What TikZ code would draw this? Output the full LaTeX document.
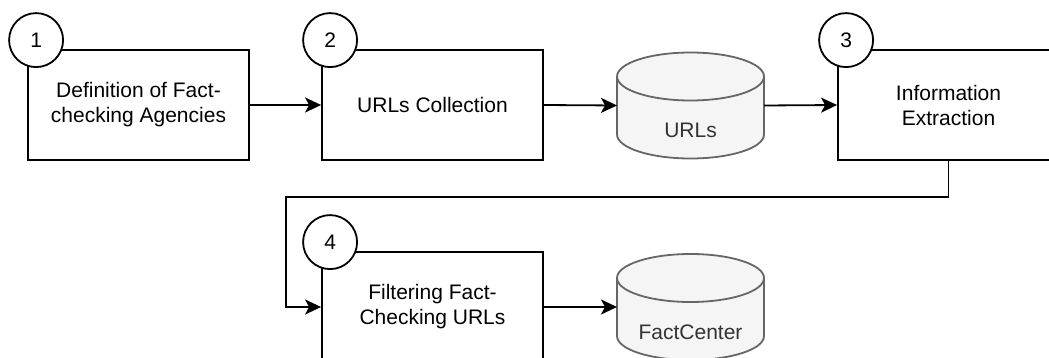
\documentclass[tikz,border=0pt]{standalone}
\usepackage{fontspec}
\setmainfont{Liberation Sans}
\usetikzlibrary{arrows.meta,calc,backgrounds}
\definecolor{dbfill}{HTML}{F5F5F5}
\definecolor{dbline}{HTML}{666666}
\definecolor{dbtext}{HTML}{333333}
\newcommand{\dbcyl}[1]{%
  \filldraw[draw=dbline, fill=dbfill, line width=1.8pt]
    ([yshift=-24pt]#1.north west) -- ([yshift=24pt]#1.south west)
    arc[start angle=180, end angle=360, x radius=73.5pt, y radius=24pt]
    -- ([yshift=-24pt]#1.north east)
    arc[start angle=0, end angle=180, x radius=73.5pt, y radius=24pt] -- cycle;
  \draw[draw=dbline, line width=1.8pt] ([yshift=-24pt]#1.north west)
    arc[start angle=180, end angle=360, x radius=73.5pt, y radius=24pt];}
\begin{document}
\begin{tikzpicture}[x=1pt,y=-1pt,
  every node/.style={font=\fontsize{21}{25}\selectfont},
  stepbox/.style={draw, line width=1.8pt, minimum width=221pt, minimum height=110pt, align=center, inner sep=0pt},
  numcirc/.style={draw, circle, fill=white, line width=1.8pt, minimum size=54pt, inner sep=0pt},
  dbnode/.style={minimum width=147pt, minimum height=106pt, inner sep=0pt, outer sep=0pt},
  dblabel/.style={text=dbtext, yshift=-25pt},
  arr/.style={line width=1.8pt, -{Stealth[length=16pt,width=15pt,inset=4pt]}}]
\useasboundingbox (0,0) rectangle (1049,358);
\clip (0,0) rectangle (1049,358);
% boxes
\node[stepbox] (def) at (138.5,105) {Definition of Fact-\\checking Agencies};
\node[stepbox] (col) at (432.5,105) {URLs Collection};
\node[dbnode, label={[dblabel]center:URLs}] (urls) at (690.5,105.5) {};
\node[stepbox] (ext) at (948.5,105) {Information\\Extraction};
\node[stepbox] (fil) at (432.5,307) {Filtering Fact-\\Checking URLs};
\node[dbnode, label={[dblabel]center:FactCenter}] (fc) at (690.5,307) {};
\begin{scope}[on background layer]
  \dbcyl{urls}
  \dbcyl{fc}
\end{scope}
% connectors
\draw[arr] (def.east) -- (col.west);
\draw[arr] (col.east) -- (urls.west);
\draw[arr] (urls.east) -- (ext.west);
\coordinate (loopL) at (286,197);
\draw[arr] (ext.south) |- (loopL) |- (fil.west);
\draw[arr] (fil.east) -- (fc.west);
% number circles
\node[numcirc] (n1) at ($(def.north west)+(9,-9)$) {1};
\node[numcirc] (n2) at ($(col.north west)+(9,-9)$) {2};
\node[numcirc] (n3) at ($(ext.north west)+(9,-9)$) {3};
\node[numcirc] (n4) at ($(fil.north west)+(9,-9)$) {4};
\end{tikzpicture}
\end{document}
